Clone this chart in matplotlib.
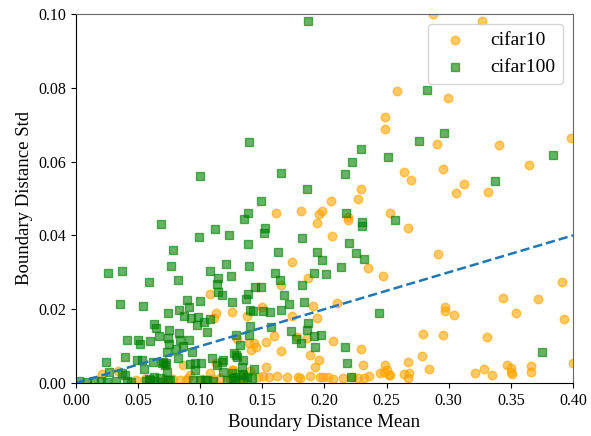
import matplotlib
matplotlib.use("Agg")
import matplotlib.pyplot as plt

plt.rcParams["font.family"] = ["Liberation Serif", "DejaVu Serif"]

# per-model boundary distance statistics
cifar10_mean = [
    0.287, 0.327, 0.258, 0.2995, 0.249, 0.2487, 0.3987, 0.2906, 0.3408, 0.264,
    0.2697, 0.2952, 0.3647, 0.3123, 0.3059, 0.3314, 0.2297, 0.227, 0.2053, 0.2528,
    0.2673, 0.2912, 0.391, 0.344, 0.3717, 0.297, 0.297, 0.304, 0.354, 0.3928,
    0.2791, 0.2957, 0.3306, 0.2788, 0.2673, 0.2842, 0.264, 0.2683, 0.2675, 0.2528,
    0.3214, 0.3284, 0.3346, 0.347, 0.350, 0.350, 0.351, 0.3663, 0.366, 0.3998,
    0.1608, 0.1809, 0.1959, 0.198, 0.1943, 0.2187, 0.2192, 0.2058, 0.1741, 0.2348,
    0.2471, 0.1865, 0.165, 0.2104, 0.1905, 0.1495, 0.1736, 0.1937, 0.1253, 0.1591,
    0.1527, 0.1395, 0.1433, 0.1406, 0.1449, 0.1293, 0.1777, 0.1862, 0.1648, 0.2071,
    0.1886, 0.1954, 0.1924, 0.2297, 0.231, 0.2485, 0.1527, 0.1401, 0.1079, 0.1124,
    0.1111, 0.1379, 0.034, 0.0207, 0.1127, 0.0918, 0.0864, 0.1253, 0.25, 0.2522,
    0.248, 0.2447, 0.2152, 0.222, 0.2273, 0.2318, 0.2361, 0.2071, 0.1334, 0.1468,
    0.1508, 0.1556, 0.1616, 0.1696, 0.179, 0.1803, 0.1884, 0.1964, 0.1991, 0.2031,
    0.0716, 0.0783, 0.0886, 0.1012, 0.11, 0.124, 0.1294, 0.1342, 0.0481, 0.0555,
    0.0837, 0.0904, 0.1079, 0.1159, 0.1266,
]
cifar10_std = [
    0.1, 0.0982, 0.0792, 0.0773, 0.0722, 0.0688, 0.0665, 0.0648, 0.0644, 0.0573,
    0.0551, 0.058, 0.0591, 0.0539, 0.0514, 0.0517, 0.0526, 0.0498, 0.0494, 0.046,
    0.0421, 0.0349, 0.0275, 0.0231, 0.0228, 0.0207, 0.0196, 0.0183, 0.0191, 0.0174,
    0.0133, 0.0129, 0.0124, 0.0074, 0.0058, 0.0038, 0.0024, 0.0026, 0.0014, 0.0022,
    0.0027, 0.0038, 0.0022, 0.005, 0.004, 0.0031, 0.0024, 0.0046, 0.0031, 0.0055,
    0.0462, 0.0466, 0.0458, 0.0467, 0.0434, 0.0451, 0.0442, 0.0398, 0.0327, 0.0311,
    0.029, 0.0285, 0.0266, 0.0216, 0.0209, 0.0205, 0.0182, 0.0177, 0.0192, 0.0126,
    0.0111, 0.0109, 0.0109, 0.0089, 0.0097, 0.0118, 0.0125, 0.0123, 0.0088, 0.0115,
    0.0077, 0.0062, 0.0044, 0.0093, 0.0048, 0.0049, 0.0044, 0.0033, 0.0241, 0.0189,
    0.0177, 0.0182, 0.0033, 0.0024, 0.0053, 0.0022, 0.0049, 0.0035, 0.0035, 0.0022,
    0.0029, 0.0026, 0.0013, 0.0017, 0.0014, 0.0014, 0.002, 0.001, 0.0017, 0.0015,
    0.0018, 0.0016, 0.0019, 0.0015, 0.0017, 0.0014, 0.0018, 0.0016, 0.0015, 0.0017,
    0.001, 0.0012, 0.0009, 0.0011, 0.001, 0.0012, 0.0009, 0.001, 0.0008, 0.0011,
    0.0008, 0.0013, 0.0027, 0.0013, 0.0035,
]

cifar100_mean = [
    0.187, 0.0998, 0.1395, 0.2294, 0.251, 0.2224, 0.1653, 0.2163, 0.1857, 0.1487,
    0.2823, 0.296, 0.2759, 0.3842, 0.337, 0.2566, 0.3749, 0.0682, 0.1117, 0.0988,
    0.0778, 0.0765, 0.1081, 0.0255, 0.0368, 0.0588, 0.0821, 0.1133, 0.1146, 0.1382,
    0.1355, 0.1519, 0.1513, 0.1234, 0.1382, 0.1822, 0.1624, 0.1942, 0.1978, 0.1208,
    0.1393, 0.1602, 0.1918, 0.201, 0.1245, 0.1645, 0.1817, 0.1438, 0.1487, 0.2176,
    0.23, 0.2305, 0.22, 0.2254, 0.2316, 0.2136, 0.1675, 0.1382, 0.1371, 0.1717,
    0.165, 0.1835, 0.1401, 0.1427, 0.1508, 0.1564, 0.2442, 0.1253, 0.157, 0.1401,
    0.1728, 0.1865, 0.186, 0.1771, 0.1811, 0.1913, 0.1975, 0.1926, 0.2163, 0.2182,
    0.2211, 0.1395, 0.129, 0.132, 0.1286, 0.1347, 0.1339, 0.1433, 0.128, 0.1414,
    0.1347, 0.1141, 0.1178, 0.0354, 0.0537, 0.0891, 0.0912, 0.1001, 0.0741, 0.0827,
    0.0869, 0.0923, 0.0982, 0.0974, 0.1033, 0.1079, 0.1057, 0.0628, 0.0642, 0.0668,
    0.0746, 0.0738, 0.0832, 0.0835, 0.0912, 0.0859, 0.0936, 0.0746, 0.073, 0.0805,
    0.0408, 0.0497, 0.0513, 0.0596, 0.0397, 0.0239, 0.0489, 0.0529, 0.0622, 0.069,
    0.0725, 0.0819, 0.0918, 0.096, 0.1006, 0.1092, 0.1173, 0.1185, 0.1137, 0.0268,
    0.0368, 0.0394, 0.0547, 0.0596, 0.0676, 0.073, 0.0744, 0.0958, 0.0944, 0.1038,
    0.1105, 0.1186, 0.1266, 0.0024, 0.0091, 0.0145, 0.0199, 0.0252, 0.032, 0.0413,
    0.0441, 0.0561, 0.0628, 0.0695, 0.0588, 0.0628, 0.0703, 0.0716, 0.1272, 0.1294,
    0.1253, 0.1334, 0.1374, 0.0757, 0.0998, 0.1052, 0.1213, 0.128, 0.1347,
]
cifar100_std = [
    0.0982, 0.0561, 0.0653, 0.0634, 0.0613, 0.0599, 0.057, 0.0567, 0.0527, 0.0493,
    0.0795, 0.0678, 0.0655, 0.0618, 0.0547, 0.0443, 0.0085, 0.0432, 0.0417, 0.0396,
    0.036, 0.0316, 0.0303, 0.0299, 0.0304, 0.0275, 0.0279, 0.0267, 0.0284, 0.0462,
    0.0445, 0.042, 0.0406, 0.0401, 0.0376, 0.0394, 0.0354, 0.0354, 0.0334, 0.0323,
    0.0317, 0.0299, 0.0299, 0.0296, 0.0291, 0.0279, 0.0266, 0.0261, 0.0261, 0.0462,
    0.0435, 0.0425, 0.038, 0.0351, 0.0337, 0.0315, 0.0238, 0.024, 0.0228, 0.0213,
    0.0198, 0.022, 0.0197, 0.0195, 0.0195, 0.0192, 0.0191, 0.0219, 0.0153, 0.0155,
    0.0142, 0.0162, 0.0143, 0.0118, 0.0108, 0.0127, 0.0129, 0.0098, 0.0098, 0.0053,
    0.0017, 0.0129, 0.0131, 0.0102, 0.0077, 0.0062, 0.0044, 0.0037, 0.0017, 0.0013,
    0.0022, 0.0247, 0.0238, 0.0213, 0.0209, 0.0225, 0.0207, 0.0223, 0.0189, 0.0198,
    0.0182, 0.0175, 0.018, 0.0156, 0.0166, 0.0173, 0.0139, 0.0159, 0.0148, 0.0128,
    0.0144, 0.0123, 0.0136, 0.0117, 0.0117, 0.01, 0.0084, 0.0106, 0.0085, 0.0091,
    0.0116, 0.0117, 0.0106, 0.0115, 0.007, 0.0058, 0.0062, 0.0062, 0.0058, 0.0055,
    0.0053, 0.0067, 0.0051, 0.0053, 0.0055, 0.0067, 0.0058, 0.0062, 0.0049, 0.0031,
    0.0026, 0.0021, 0.0038, 0.0008, 0.0013, 0.0031, 0.0008, 0.0035, 0.0008, 0.0008,
    0.0006, 0.0031, 0.0013, 0.0005, 0.0004, 0.0006, 0.0005, 0.0004, 0.0006, 0.0005,
    0.0004, 0.0006, 0.0005, 0.0004, 0.001, 0.0017, 0.0058, 0.0049, 0.008, 0.0071,
    0.0026, 0.0024, 0.0017, 0.0008, 0.0008, 0.0007, 0.0008, 0.0007, 0.0008,
]

# reference line std = 0.1 * mean
ref_x = [0.0, 0.4]
ref_y = [0.0, 0.04]

fig = plt.figure(figsize=(5.91, 4.36), dpi=100)
ax = fig.add_axes([0.1286, 0.1216, 0.8409, 0.8463])

ax.scatter(cifar10_mean, cifar10_std, s=38, marker="o", color="orange",
           alpha=0.6, label="cifar10")
ax.scatter(cifar100_mean, cifar100_std, s=38, marker="s", color="green",
           alpha=0.6, label="cifar100")
ax.plot(ref_x, ref_y, linestyle="--", color="#1f77b4", linewidth=1.8)

ax.set_xlim(0.0, 0.4)
ax.set_ylim(0.0, 0.1)
ax.set_xticks([0.0, 0.05, 0.1, 0.15, 0.2, 0.25, 0.3, 0.35, 0.4])
ax.set_yticks([0.0, 0.02, 0.04, 0.06, 0.08, 0.1])
ax.xaxis.set_major_formatter(matplotlib.ticker.FormatStrFormatter("%.2f"))
ax.yaxis.set_major_formatter(matplotlib.ticker.FormatStrFormatter("%.2f"))
ax.tick_params(labelsize=11.5)

for side in ("top", "right"):
    ax.spines[side].set_color("#666666")

ax.set_xlabel("Boundary Distance Mean", fontsize=13.5)
ax.set_ylabel("Boundary Distance Std", fontsize=13.5)
ax.legend(loc="upper right", fontsize=14)

fig.savefig("out.png", dpi=100)
